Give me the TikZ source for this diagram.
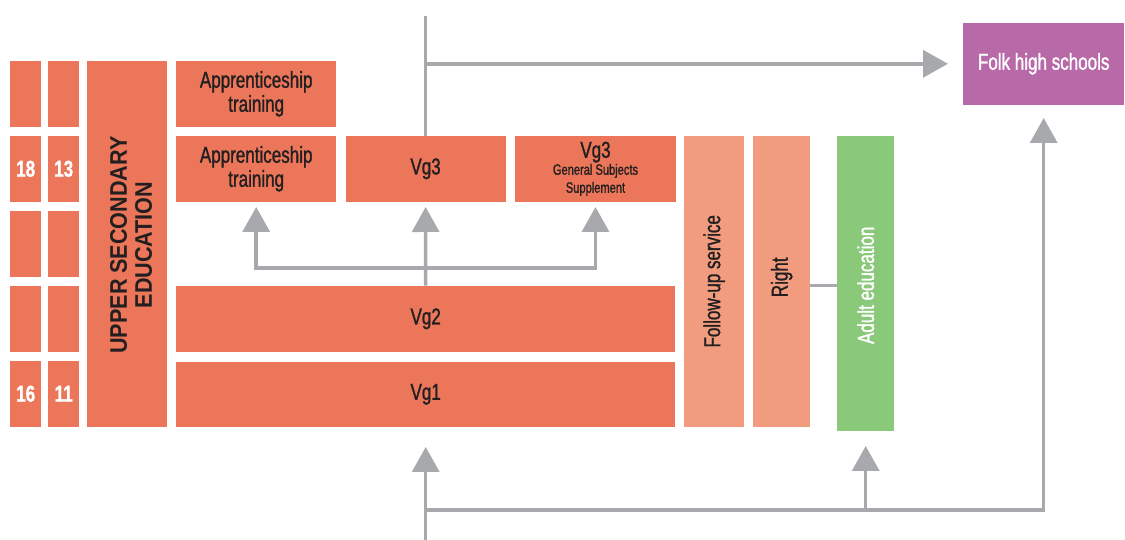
\documentclass[tikz,border=0pt]{standalone}
\usepackage{fontspec}
\setmainfont{Liberation Sans}[FakeStretch=0.74, FakeBold=1.2]
\newfontfamily\headfont{Liberation Sans}[FakeStretch=0.9]
\usetikzlibrary{positioning, arrows.meta}
\definecolor{vgred}{HTML}{EC7659}
\definecolor{vglight}{HTML}{F19C7E}
\definecolor{adultgreen}{HTML}{8BC97A}
\definecolor{folkpurple}{HTML}{B869A8}
\definecolor{flowgray}{HTML}{A7A9AC}
\definecolor{inkdark}{HTML}{231F20}

\begin{document}
\begin{tikzpicture}[x=1pt, y=1pt, node distance=9pt,
	box/.style={rectangle, fill=vgred, inner sep=0pt, anchor=south west, align=center, text=inkdark, font=\fontsize{23}{24}\selectfont},
	agebox/.style={box, minimum width=31pt, minimum height=66pt, text=white, font=\bfseries\fontsize{23}{24}\selectfont},
	prog/.style={box, minimum width=160pt, minimum height=66pt},
	tall/.style={box, minimum height=291pt, fill=vglight},
	flow/.style={draw=flowgray, line width=3.5pt},
	arrow/.style={flow, -{Triangle[width=27pt, length=25pt]}}]
	\useasboundingbox (0,0) rectangle (1125,540);

	% age and grade columns
	\foreach \y/\age/\grade [count=\i] in {413//, 338/18/13, 263//, 188//, 113/16/11} {
		\node[agebox] (age\i) at (10,\y) {\age};
		\node[agebox] (grade\i) at (48,\y) {\grade};
	}
	\node[box, minimum width=80pt, minimum height=366pt] (upper) at (87,113) {};
	\node[rotate=90, align=center, inkdark, font=\headfont\bfseries\fontsize{24}{25}\selectfont] (uppertext) at (131,295) {UPPER SECONDARY\\EDUCATION};

	% programmes
	\node[prog] (app1) at (176,413) {Apprenticeship\\training};
	\node[prog] (app2) at (176,338) {Apprenticeship\\training};
	\node[prog, right=of app2] (vg3) {Vg3};
	\node[prog, right=of vg3, minimum width=161pt] (gss) {Vg3\\[-7pt]{\fontsize{15}{15}\selectfont General Subjects}\\[-6pt]{\fontsize{15}{15}\selectfont Supplement}};
	\node[box, minimum width=499pt, minimum height=66pt] (vg2) at (176,188) {Vg2};
	\node[box, minimum width=499pt, minimum height=65pt] (vg1) at (176,113) {Vg1};

	\node[tall, minimum width=60pt] (follow) at (684,113) {};
	\node[rotate=90, inkdark, font=\fontsize{23}{24}\selectfont] at (follow.center) {Follow-up service};
	\node[tall, minimum width=57pt] (right) at (753,113) {};
	\node[rotate=90, inkdark, font=\fontsize{23}{24}\selectfont] at ([yshift=4pt]right.center) {Right};
	\node[box, fill=adultgreen, minimum width=57pt, minimum height=295pt] (adult) at (837,109) {};
	\node[rotate=90, white, font=\fontsize{23}{24}\selectfont] at ([yshift=-2pt]adult.center) {Adult education};
	\node[box, fill=folkpurple, minimum width=161pt, minimum height=82pt, text=white] (folk) at (963,435) {Folk high schools};

	% connectors
	\coordinate (top) at (vg3.north |- 0,524);
	\coordinate (fork) at (vg2.north |- 0,272);
	\coordinate (bottom) at (vg1.south |- 0,0);
	\coordinate (hub) at (vg1.south |- 0,30);

	\draw[flow] (top) -- (vg3.north);
	\draw[arrow, shorten >=15pt] (top |- folk.west) -- (folk.west);
	\draw[arrow, shorten >=5pt] (vg2.north) -- (vg3.south);
	\draw[arrow, shorten >=5pt] (fork) -| (app2.south);
	\draw[arrow, shorten >=5pt] (fork) -| (gss.south);
	\draw[arrow, shorten >=20pt] (bottom) -- (vg1.south);
	\draw[arrow, shorten >=15pt] (hub) -| (adult.south);
	\draw[arrow, shorten >=13pt] (hub) -| (folk.south);
	\draw[flow] ([yshift=-4pt]right.east) -- ([yshift=-4pt]right.east -| adult.west);
\end{tikzpicture}
\end{document}
